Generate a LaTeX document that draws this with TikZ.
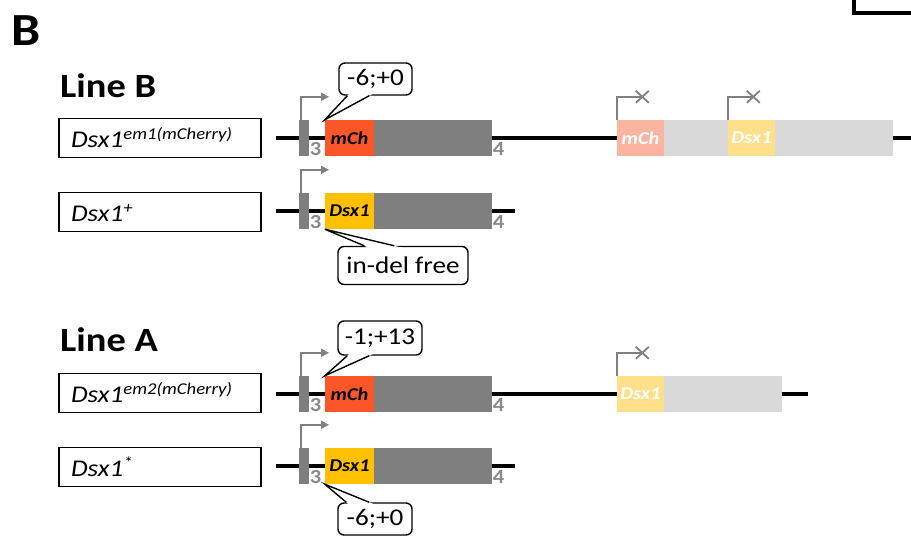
\documentclass[tikz,border=0pt]{standalone}
\usepackage{fontspec}
\setmainfont{Carlito}[FakeStretch=1.13]
\usetikzlibrary{calc,arrows.meta}
\definecolor{exgrey}{HTML}{7F7F7F}
\definecolor{numgrey}{HTML}{8A8A8A}
\definecolor{mchred}{HTML}{FA5628}
\definecolor{dsxyel}{HTML}{FFC000}
\definecolor{palered}{HTML}{FBB49F}
\definecolor{paleyel}{HTML}{FFE08A}
\definecolor{lightgrey}{HTML}{D9D9D9}
\definecolor{promgrey}{HTML}{808080}
\newcommand\mysup[1]{\raisebox{7.5pt}{\fontsize{16.5}{16.5}\selectfont #1}}
\begin{document}
\begin{tikzpicture}[x=1pt,y=-1pt,
 lblbox/.style={draw, line width=1.1pt, minimum width=202pt, minimum height=39pt, inner xsep=12pt, inner ysep=0pt, text width=178pt, text height=23pt, text depth=5pt, align=left, font=\fontsize{24}{24}\selectfont\itshape},
 dna/.style={line width=4pt, black},
 exthree/.style={fill=exgrey, minimum width=10pt, minimum height=36pt, inner sep=0pt},
 seg/.style={minimum height=36pt, inner sep=0pt, font=\fontsize{18}{18}\selectfont\bfseries\itshape},
 exnum/.style={text=numgrey, font=\fontsize{20}{20}\selectfont\bfseries, inner sep=0.5pt, anchor=south west},
 prom/.style={draw=promgrey, line width=1.8pt, -{Triangle[length=8pt,width=8pt]}},
 promx/.style={draw=promgrey, line width=1.8pt},
 callbox/.style={draw, line width=1.4pt, fill=white, rounded corners=6pt, inner xsep=4pt, inner ysep=3pt, font=\fontsize{24}{24}\selectfont},
 callline/.style={line width=1.4pt, line join=miter},
 heading/.style={font=\fontsize{34}{34}\selectfont\bfseries, inner sep=0pt, anchor=base west},
]
\useasboundingbox (0,0) rectangle (911,542);

% panel letter and frame corner
\node[font=\fontsize{46}{46}\selectfont\bfseries, inner sep=0pt, anchor=base west] (pB) at (11,45) {B};
\coordinate (fr1) at (854,0);
\coordinate (fr2) at (854,12.5);
\coordinate (fr3) at (912,12.5);
\draw[line width=4pt, line join=miter] (fr1) -- (fr2) -- (fr3);

% ===== Line B =====
\node[heading] (hB) at (60,97) {Line B};

% Row 1
\coordinate (d1s) at (276,138);
\coordinate (d1e) at (912,138);
\draw[dna] (d1s) -- (d1e);
\node[lblbox] (l1) at (160,138) {Dsx1\mysup{em1(mCherry)}};
\node[exthree] (e31) at (304,138) {};
\node[seg, fill=mchred, minimum width=49pt] (m1) at (349.5,138) {mCh};
\node[seg, fill=exgrey, minimum width=118pt] (g1) at (433,138) {};
\node[exnum] (n31) at (e31.south east) {3};
\node[exnum] (n41) at (g1.south east) {4};
\draw[prom] ([xshift=-3pt]e31.north) -- ++(0,-23) -- ++(28,0);
\node[callbox, minimum width=73pt, minimum height=32pt] (c1) at (375.5,79) {-6;+0};
\coordinate (c1a) at ($(c1.south west)+(9,0)$);
\coordinate (c1b) at ($(c1.south west)+(31,0)$);
\fill[white] ($(m1.north west)!1.12!(c1a)$) -- (m1.north west) -- ($(m1.north west)!1.12!(c1b)$) -- cycle;
\draw[callline] (c1a) -- (m1.north west) -- (c1b);
% right part row 1
\node[seg, fill=lightgrey, minimum width=229pt] (lg1) at (778.5,138) {};
\node[seg, fill=palered, text=white, minimum width=47pt] (pm1) at (640.5,138) {mCh};
\node[seg, fill=paleyel, text=white, minimum width=47pt] (py1) at (751.5,138) {Dsx1};
\draw[promx] ([xshift=0.5pt]pm1.north west) -- ++(0,-23) -- ++(25,0) coordinate (x1);
\draw[promx] ($(x1)+(-6.5,-6)$) -- ($(x1)+(6.5,6)$) ($(x1)+(-6.5,6)$) -- ($(x1)+(6.5,-6)$);
\draw[promx] ([xshift=0.5pt]py1.north west) -- ++(0,-23) -- ++(25,0) coordinate (x2);
\draw[promx] ($(x2)+(-6.5,-6)$) -- ($(x2)+(6.5,6)$) ($(x2)+(-6.5,6)$) -- ($(x2)+(6.5,-6)$);

% Row 2
\coordinate (d2s) at (276,211);
\coordinate (d2e) at (515,211);
\draw[dna] (d2s) -- (d2e);
\node[lblbox] (l2) at (160,212) {Dsx1\mysup{+}};
\node[exthree] (e32) at (304,211) {};
\node[seg, fill=dsxyel, minimum width=49pt] (d2) at (349.5,211) {Dsx1};
\node[seg, fill=exgrey, minimum width=118pt] (g2) at (433,211) {};
\node[exnum] (n32) at (e32.south east) {3};
\node[exnum] (n42) at (g2.south east) {4};
\draw[prom] ([xshift=-3pt]e32.north) -- ++(0,-23) -- ++(28,0);
\node[callbox, minimum width=130pt, minimum height=38pt] (c2) at (403,265.5) {in-del free};
\coordinate (c2a) at ($(c2.north west)+(27,0)$);
\coordinate (c2b) at ($(c2.north west)+(57,0)$);
\fill[white] ($(d2.south west)!1.12!(c2a)$) -- (d2.south west) -- ($(d2.south west)!1.12!(c2b)$) -- cycle;
\draw[callline] (c2a) -- (d2.south west) -- (c2b);

% ===== Line A =====
\node[heading] (hA) at (60,351) {Line A};

% Row 3
\coordinate (d3s) at (276,394);
\coordinate (d3e) at (808,394);
\draw[dna] (d3s) -- (d3e);
\node[lblbox] (l3) at (160,393) {Dsx1\mysup{em2(mCherry)}};
\node[exthree] (e33) at (304,394) {};
\node[seg, fill=mchred, minimum width=49pt] (m3) at (349.5,394) {mCh};
\node[seg, fill=exgrey, minimum width=118pt] (g3) at (433,394) {};
\node[exnum] (n33) at (e33.south east) {3};
\node[exnum] (n43) at (g3.south east) {4};
\draw[prom] ([xshift=-3pt]e33.north) -- ++(0,-23) -- ++(28,0);
\node[callbox, minimum width=84pt, minimum height=34pt] (c3) at (380,338) {-1;+13};
\coordinate (c3a) at ($(c3.south west)+(10,0)$);
\coordinate (c3b) at ($(c3.south west)+(32,0)$);
\fill[white] ($(m3.north west)!1.12!(c3a)$) -- (m3.north west) -- ($(m3.north west)!1.12!(c3b)$) -- cycle;
\draw[callline] (c3a) -- (m3.north west) -- (c3b);
% right part row 3
\node[seg, fill=lightgrey, minimum width=118pt] (lg3) at (723,394) {};
\node[seg, fill=paleyel, text=white, minimum width=47pt] (py3) at (640.5,394) {Dsx1};
\draw[promx] ([xshift=0.5pt]py3.north west) -- ++(0,-23) -- ++(25,0) coordinate (x3);
\draw[promx] ($(x3)+(-6.5,-6)$) -- ($(x3)+(6.5,6)$) ($(x3)+(-6.5,6)$) -- ($(x3)+(6.5,-6)$);

% Row 4
\coordinate (d4s) at (276,466);
\coordinate (d4e) at (515,466);
\draw[dna] (d4s) -- (d4e);
\node[lblbox] (l4) at (160,467) {Dsx1\mysup{*}};
\node[exthree] (e34) at (304,466) {};
\node[seg, fill=dsxyel, minimum width=49pt] (d4) at (349.5,466) {Dsx1};
\node[seg, fill=exgrey, minimum width=118pt] (g4) at (433,466) {};
\node[exnum] (n34) at (e34.south east) {3};
\node[exnum] (n44) at (g4.south east) {4};
\draw[prom] ([xshift=-3pt]e34.north) -- ++(0,-23) -- ++(28,0);
\node[callbox, minimum width=74pt, minimum height=32pt] (c4) at (375,519) {-6;+0};
\coordinate (c4a) at ($(c4.north west)+(9,0)$);
\coordinate (c4b) at ($(c4.north west)+(32,0)$);
\fill[white] ($(d4.south west)!1.12!(c4a)$) -- (d4.south west) -- ($(d4.south west)!1.12!(c4b)$) -- cycle;
\draw[callline] (c4a) -- (d4.south west) -- (c4b);
\end{tikzpicture}
\end{document}
